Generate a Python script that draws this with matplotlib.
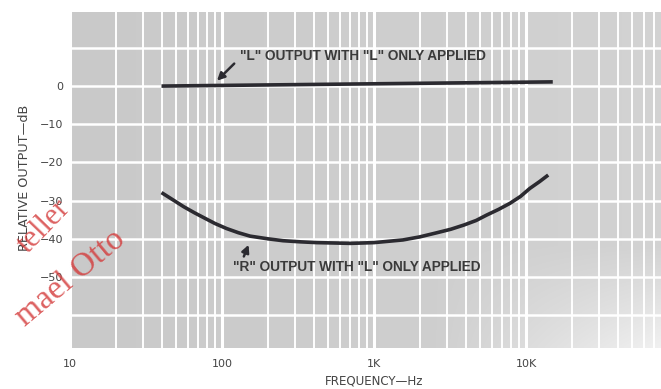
import numpy as np
import matplotlib
matplotlib.use("Agg")
import matplotlib.pyplot as plt

# ---- data ----
freq_l = [40, 15000]
level_l = [0.0, 1.1]

freq_r = [40, 48, 56, 66, 77, 90, 107, 128, 153, 200, 252, 330, 420, 550, 700, 1000,
          1550, 2000, 2600, 3200, 3900, 4700, 5500, 6600, 7850, 9200, 10600, 12300, 14000]
level_r = [-27.9, -29.9, -31.6, -33.2, -34.6, -36.0, -37.3, -38.4, -39.3, -40.0, -40.5,
           -40.8, -41.0, -41.1, -41.2, -41.0, -40.3, -39.5, -38.4, -37.5, -36.4, -35.2,
           -33.8, -32.3, -30.7, -28.9, -26.8, -25.0, -23.3]

xtick_vals = [10, 100, 1000, 10000]
xtick_labels = ["10", "100", "1K", "10K"]
ytick_vals = [0, -10, -20, -30, -40, -50]
ytick_labels = ["0", "\u221210", "\u221220", "\u221230", "\u221240", "\u221250"]

label_l = "\"L\" OUTPUT WITH \"L\" ONLY APPLIED"
label_r = "\"R\" OUTPUT WITH \"L\" ONLY APPLIED"

# ---- figure ----
W, H = 661, 389
fig = plt.figure(figsize=(W / 100, H / 100), dpi=100)
fig.patch.set_facecolor("white")

left, right, top, bottom = 70, 661, 12, 348
ax = fig.add_axes([left / W, 1 - bottom / H, (right - left) / W, (bottom - top) / H])
ax.set_xscale("log")
ax.set_xlim(10, 10 ** (1 + (right - left) / 152))
ax.set_ylim(-68.6, 19.4)
ax.set_facecolor("#c9c9c9")
for s in ax.spines.values():
    s.set_visible(False)

# faded paper towards the right / lower right of the scan
gx, gy = np.meshgrid(np.linspace(0, 1, 200), np.linspace(0, 1, 120))
fade = 0.18 * gx + 0.55 * np.clip((gx - 0.62) / 0.38, 0, 1) * np.clip((0.3 - gy) / 0.3, 0, 1)
overlay = np.ones((120, 200, 4))
overlay[..., 3] = np.clip(fade, 0, 0.8)
ax.imshow(overlay, extent=[0, 1, 0, 1], transform=ax.transAxes, origin="lower",
          aspect="auto", zorder=0.5, interpolation="bilinear")

# grid (white lines of the chart paper)
for dec in [10, 100, 1000, 10000]:
    for m in range(1, 10):
        f = dec * m
        ax.axvline(f, color="white", lw=2.2 if m == 1 else 1.4, zorder=1)
for y in range(-60, 20, 10):
    ax.axhline(y, color="white", lw=1.8, zorder=1)

# curves
line_color = "#2b2a30"
ax.plot(freq_l, level_l, color=line_color, lw=2.6, solid_capstyle="butt", zorder=3)
ax.plot(freq_r, level_r, color=line_color, lw=2.6, solid_capstyle="butt", zorder=3)

# ticks
ax.set_xticks(xtick_vals)
ax.set_xticklabels(xtick_labels)
ax.set_yticks(ytick_vals)
ax.set_yticklabels(ytick_labels)
ax.minorticks_off()
ax.tick_params(axis="both", length=0, colors="#444444", labelsize=8)
ax.tick_params(axis="x", pad=8)
ax.tick_params(axis="y", pad=5)

# annotations
txt_kw = dict(fontsize=9.8, fontweight="bold", color="#3a3a3a", family="Liberation Sans",
              va="center", ha="left", zorder=4)
ax.text(131, 7.85, label_l, **txt_kw)
ax.text(118, -47.4, label_r, **txt_kw)
arrow_kw = dict(arrowstyle="-|>", color=line_color, lw=1.8, mutation_scale=11)
ax.annotate("", xy=(90, 0.9), xytext=(124, 6.4), arrowprops=arrow_kw, zorder=4)
ax.annotate("", xy=(152, -40.9), xytext=(137, -45.3), arrowprops=arrow_kw, zorder=4)

# axis titles
fig.text(374 / W, 1 - 381 / H, "FREQUENCY\u2014Hz", ha="center", va="center",
         fontsize=8.6, color="#444444")
fig.text(25 / W, 1 - 178 / H, "RELATIVE OUTPUT\u2014dB", ha="center", va="center",
         rotation=90, fontsize=9.2, color="#444444")

# red watermark of the scan
wm_kw = dict(color="#d43a3a", alpha=0.8, family="Liberation Serif",
             ha="center", va="center")
fig.text(44 / W, 1 - 226 / H, "teller", rotation=46, fontsize=22, **wm_kw)
fig.text(70 / W, 1 - 278 / H, "mael Otto", rotation=40, fontsize=24, **wm_kw)

fig.savefig("out.png", dpi=100, facecolor="white")
